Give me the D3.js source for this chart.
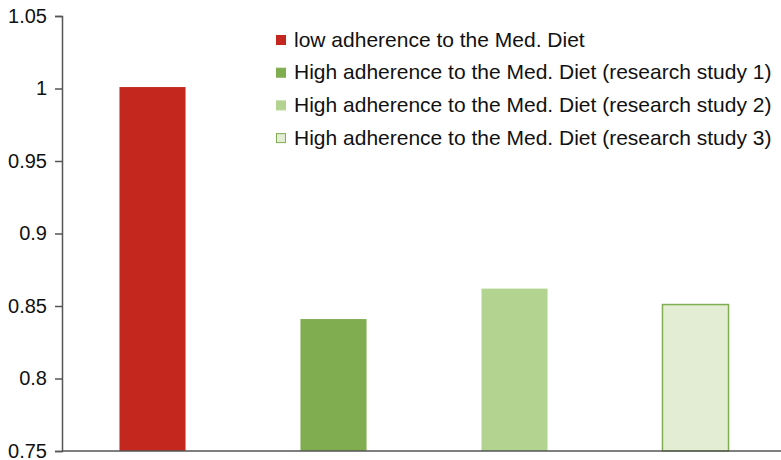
<!DOCTYPE html>
<html>
<head>
<meta charset="utf-8">
<script src="https://cdn.jsdelivr.net/npm/d3@7"></script>
<style>
  body { margin: 0; background: #fff; }
  text { font-family: "Liberation Sans", Arial, sans-serif; fill: #111; }
</style>
</head>
<body>
<svg id="chart" width="781" height="460"></svg>
<script>
// data
const categories = [
  "low adherence to the Med. Diet",
  "High adherence to the Med. Diet (research study 1)",
  "High adherence to the Med. Diet (research study 2)",
  "High adherence to the Med. Diet (research study 3)"
];
const values = [1.001, 0.841, 0.862, 0.851];
const yTicks = [0.75, 0.8, 0.85, 0.9, 0.95, 1, 1.05];
const fills = ["#c3271d", "#7fad50", "#b3d490", "#e3edd4"];
const strokes = ["none", "none", "none", "#7fad50"];

const svg = d3.select("#chart");

// scales
const x = d3.scaleBand()
    .domain(categories)
    .range([62, 786])
    .paddingInner(0.635)
    .paddingOuter(0.3175);

const y = d3.scaleLinear()
    .domain([0.75, 1.05])
    .range([451, 16]);

// bars
svg.selectAll("rect.bar")
    .data(categories)
    .enter()
    .append("rect")
    .attr("class", "bar")
    .attr("x", d => x(d))
    .attr("y", (d, i) => y(values[i]))
    .attr("width", x.bandwidth())
    .attr("height", (d, i) => y(0.75) - y(values[i]))
    .attr("fill", (d, i) => fills[i])
    .attr("stroke", (d, i) => strokes[i])
    .attr("stroke-width", 1.5);

// y axis
const yAxis = svg.append("g")
    .attr("transform", "translate(62,0)")
    .call(d3.axisLeft(y)
        .tickValues(yTicks)
        .tickSize(7)
        .tickPadding(8)
        .tickFormat(d => d3.format("")(+d.toFixed(2))));
yAxis.select(".domain").attr("stroke", "#555").attr("stroke-width", 1.5);
yAxis.selectAll(".tick line").attr("stroke", "#555").attr("stroke-width", 1.5);
yAxis.selectAll(".tick text")
    .style("font-family", "'Liberation Sans', Arial, sans-serif")
    .style("font-size", "20px")
    .attr("fill", "#111");

// x axis baseline
svg.append("line")
    .attr("x1", 62)
    .attr("x2", 781)
    .attr("y1", y(0.75))
    .attr("y2", y(0.75))
    .attr("stroke", "#555")
    .attr("stroke-width", 1.5);

// legend
const legend = svg.append("g");
const rows = legend.selectAll("g")
    .data(categories)
    .enter()
    .append("g")
    .attr("transform", (d, i) => `translate(276,${35 + i * 32.7})`);

rows.append("rect")
    .attr("x", 0.5)
    .attr("y", 0.5)
    .attr("width", 9)
    .attr("height", 9)
    .attr("fill", (d, i) => fills[i])
    .attr("stroke", (d, i) => i === 3 ? "#7fad50" : fills[i])
    .attr("stroke-width", 1);

rows.append("text")
    .attr("x", 18)
    .attr("y", 11.5)
    .style("font-size", "21px")
    .text(d => d);
</script>
</body>
</html>
